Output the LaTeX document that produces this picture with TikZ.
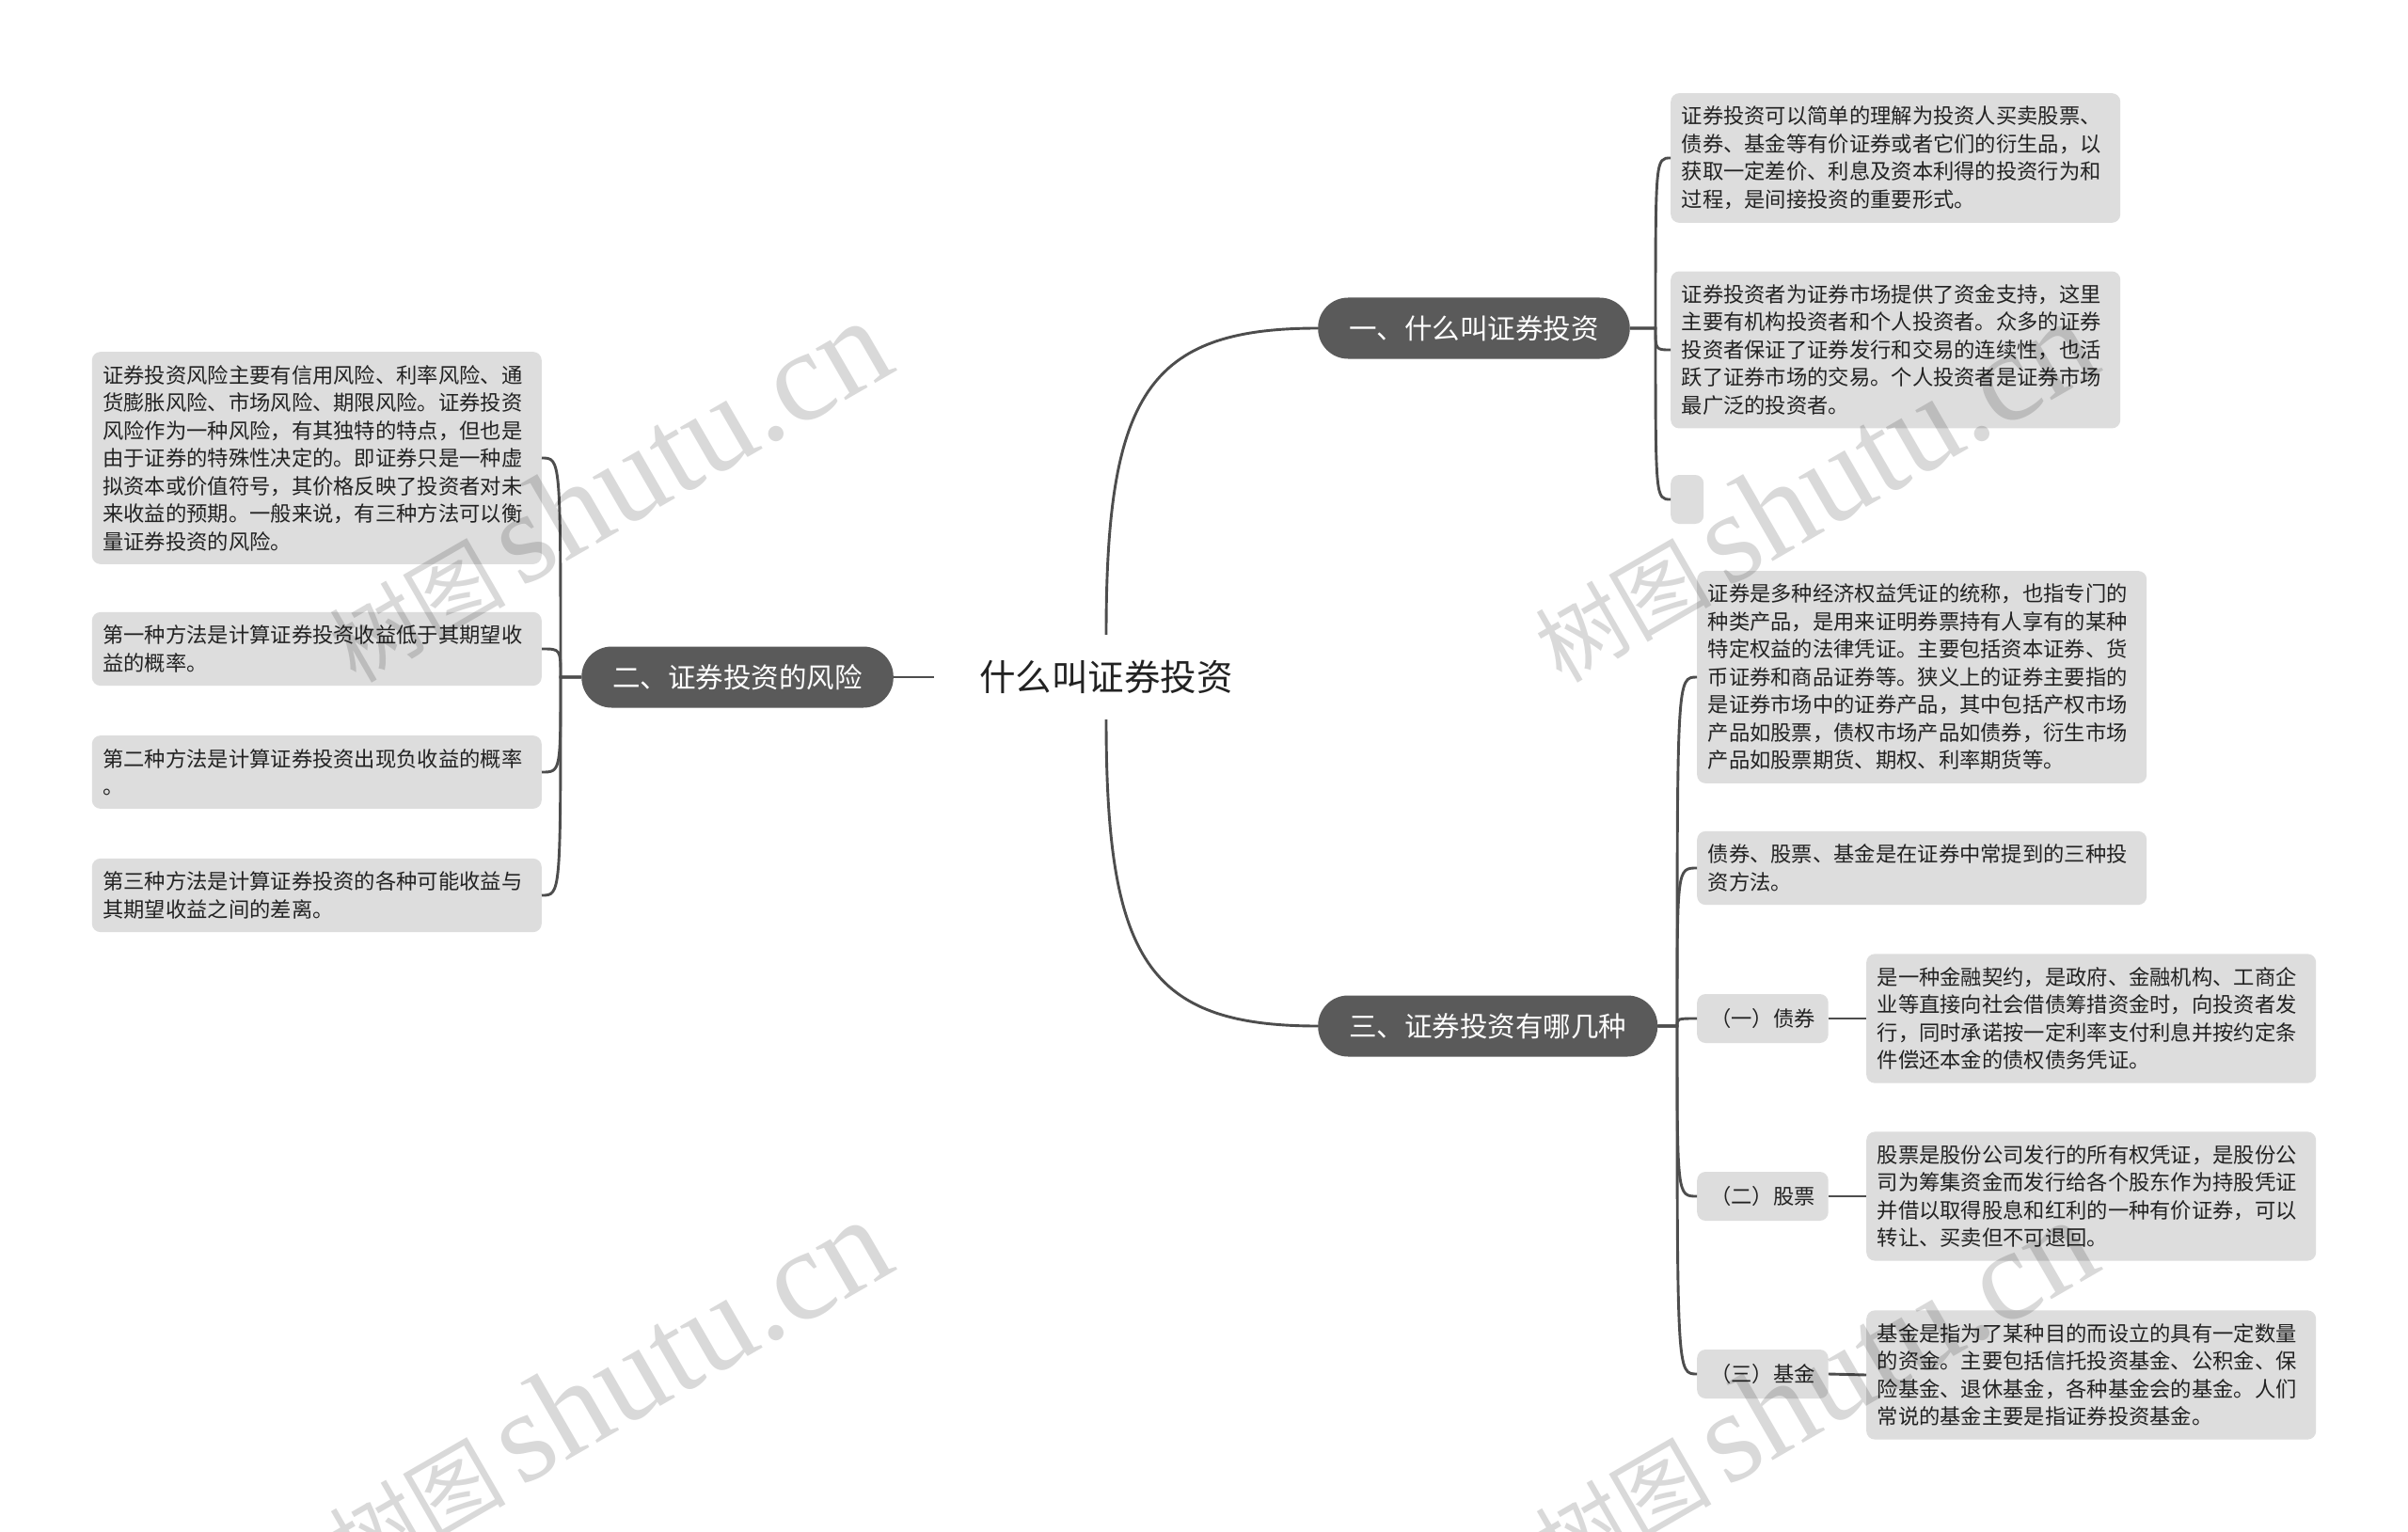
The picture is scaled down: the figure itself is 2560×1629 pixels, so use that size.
\documentclass[tikz,border=0pt]{standalone}
\usepackage{fontspec}
\setmainfont{Noto Sans CJK SC}
\newfontfamily\wmserif{Liberation Serif}
\definecolor{linec}{HTML}{4D4D4D}
\definecolor{darkn}{HTML}{5A5A5A}
\definecolor{leafc}{HTML}{DDDDDD}
\definecolor{textc}{HTML}{222222}
\tikzset{
  conn/.style={draw=linec, line width=2.9pt},
  topic/.style={fill=darkn, text=white, rounded corners=32pt, minimum height=65pt, inner xsep=33pt, inner ysep=0pt, font=\fontsize{29.5}{35}\selectfont},
  leaf/.style={fill=leafc, rounded corners=9pt, align=left, text width=455pt, inner xsep=11.5pt, inner ysep=14pt, text=textc, font=\fontsize{22.3}{29.5}\selectfont},
  lab/.style={fill=leafc, rounded corners=9pt, minimum height=52pt, inner xsep=14pt, inner ysep=0pt, text=textc, font=\fontsize{22.3}{26}\selectfont},
  wm/.style={rotate=30, text=black, text opacity=0.15, inner sep=0pt}
}
\begin{document}
\begin{tikzpicture}[x=1pt,y=-1pt]
\fill[white] (0,0) rectangle (2560,1629);
\useasboundingbox (0,0) rectangle (2560,1629);

% central topic
\node[minimum width=366pt, minimum height=90pt, inner sep=0pt, text=textc, font=\fontsize{38.5}{44}\selectfont] (c) at (1176,720) {什么叫证券投资};

% main topics
\node[topic, anchor=west] (n1) at (1401,349) {一、什么叫证券投资};
\node[topic, anchor=east] (n2) at (950,720) {二、证券投资的风险};
\node[topic, anchor=west] (n3) at (1401,1091) {三、证券投资有哪几种};

% branch 1 children
\node[leaf, anchor=west] (a) at (1776,168) {证券投资可以简单的理解为投资人买卖股票、\\债券、基金等有价证券或者它们的衍生品，以\\获取一定差价、利息及资本利得的投资行为和\\过程，是间接投资的重要形式。};
\node[leaf, anchor=west] (b) at (1776,372) {证券投资者为证券市场提供了资金支持，这里\\主要有机构投资者和个人投资者。众多的证券\\投资者保证了证券发行和交易的连续性，也活\\跃了证券市场的交易。个人投资者是证券市场\\最广泛的投资者。};
\node[fill=leafc, rounded corners=9pt, minimum width=35pt, minimum height=52pt, inner sep=0pt, anchor=west] (e0) at (1776,531) {};

% branch 3 children
\node[leaf, anchor=west] (d) at (1804,720) {证券是多种经济权益凭证的统称，也指专门的\\种类产品，是用来证明券票持有人享有的某种\\特定权益的法律凭证。主要包括资本证券、货\\币证券和商品证券等。狭义上的证券主要指的\\是证券市场中的证券产品，其中包括产权市场\\产品如股票，债权市场产品如债券，衍生市场\\产品如股票期货、期权、利率期货等。};
\node[leaf, anchor=west] (e) at (1804,923) {债券、股票、基金是在证券中常提到的三种投\\资方法。};
\node[lab, anchor=west] (f) at (1804,1083) {（一）债券};
\node[lab, anchor=west] (g) at (1804,1272) {（二）股票};
\node[lab, anchor=west] (h) at (1804,1461) {（三）基金};
\node[leaf, anchor=west] (fc) at (1984,1083) {是一种金融契约，是政府、金融机构、工商企\\业等直接向社会借债筹措资金时，向投资者发\\行，同时承诺按一定利率支付利息并按约定条\\件偿还本金的债权债务凭证。};
\node[leaf, anchor=west] (gc) at (1984,1272) {股票是股份公司发行的所有权凭证，是股份公\\司为筹集资金而发行给各个股东作为持股凭证\\并借以取得股息和红利的一种有价证券，可以\\转让、买卖但不可退回。};
\node[leaf, anchor=west] (hc) at (1984,1462) {基金是指为了某种目的而设立的具有一定数量\\的资金。主要包括信托投资基金、公积金、保\\险基金、退休基金，各种基金会的基金。人们\\常说的基金主要是指证券投资基金。};

% branch 2 children
\node[leaf, anchor=east] (i) at (576,487) {证券投资风险主要有信用风险、利率风险、通\\货膨胀风险、市场风险、期限风险。证券投资\\风险作为一种风险，有其独特的特点，但也是\\由于证券的特殊性决定的。即证券只是一种虚\\拟资本或价值符号，其价格反映了投资者对未\\来收益的预期。一般来说，有三种方法可以衡\\量证券投资的风险。};
\node[leaf, anchor=east] (j) at (576,690) {第一种方法是计算证券投资收益低于其期望收\\益的概率。};
\node[leaf, anchor=east] (k) at (576,821) {第二种方法是计算证券投资出现负收益的概率\\。};
\node[leaf, anchor=east] (l) at (576,952) {第三种方法是计算证券投资的各种可能收益与\\其期望收益之间的差离。};

% bracket points
\coordinate (b1) at (1760,349);
\coordinate (b2) at (596,720);
\coordinate (b3) at (1783,1091);

% connectors from center
\draw[conn] (c.north) .. controls (1176,420) and (1220,349) .. (n1.west);
\draw[conn] (c.south) .. controls (1176,1020) and (1220,1091) .. (n3.west);
\draw[conn] (c.west) -- (n2.east);

% branch 1
\foreach \t in {a,b,e0}{
  \draw[conn] (n1.east) -- (b1) .. controls (b1 |- \t.west) .. (\t.west);
}
% branch 3
\foreach \t in {d,e,f,g,h}{
  \draw[conn] (n3.east) -- (b3) .. controls (b3 |- \t.west) .. (\t.west);
}
\draw[conn] (f.east) -- (fc.west);
\draw[conn] (g.east) -- (gc.west);
\draw[conn] (h.east) -- (hc.west);
% branch 2
\foreach \t in {i,j,k,l}{
  \draw[conn] (n2.west) -- (b2) .. controls (b2 |- \t.east) .. (\t.east);
}

% watermarks
\foreach \p/\q in {645/522, 1927/522, 645/1478, 1927/1478}{
  \node[wm] (w) at (\p,\q) {\fontsize{94}{98}\selectfont 树图\,{\wmserif\fontsize{138}{138}\selectfont shutu.cn}};
}
\end{tikzpicture}
\end{document}
